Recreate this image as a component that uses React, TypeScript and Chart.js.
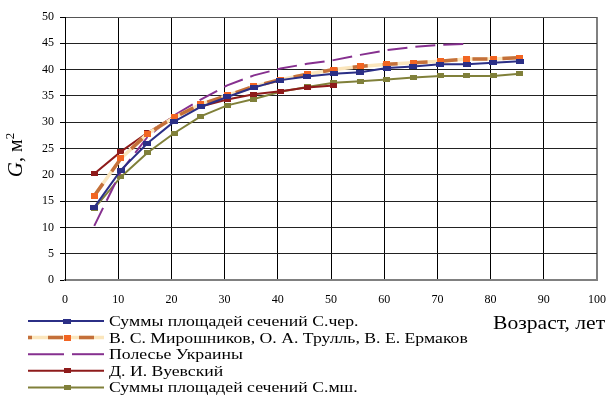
import React, { useEffect, useRef } from "react";
import { Chart, registerables } from "chart.js";

Chart.register(...registerables);

// Age (years) positions of the plotted points
const ages = [5.5, 10.5, 15.5, 20.5, 25.5, 30.5, 35.5, 40.5, 45.5, 50.5, 55.5, 60.5, 65.5, 70.5, 75.5, 80.5, 85.5];

const seriesLabels = [
  "Суммы площадей сечений С.чер.",
  "В. С. Мирошников, О. А. Трулль, В. Е. Ермаков",
  "Полесье Украины",
  "Д. И. Вуевский",
  "Суммы площадей сечений С.мш.",
];

const sumsChernichny = [13.8, 20.9, 26.0, 30.1, 32.9, 34.8, 36.6, 38.0, 38.7, 39.2, 39.5, 40.3, 40.6, 41.0, 41.0, 41.3, 41.6];
const miroshnikov = [16.0, 23.1, 27.8, 30.9, 33.4, 35.1, 36.8, 38.1, 39.1, 40.0, 40.6, 41.0, 41.3, 41.6, 42.0, 42.0, 42.3];
const polesie = [10.3, 20.6, 27.2, 31.3, 34.3, 37.0, 38.9, 40.2, 41.1, 41.8, 42.8, 43.7, 44.3, 44.7, 44.9];
const vuevsky = [20.2, 24.4, 28.0, 31.1, 33.0, 34.3, 35.3, 35.9, 36.6, 37.0];
const sumsMshisty = [13.6, 19.6, 24.2, 27.9, 31.1, 33.2, 34.4, 35.8, 36.7, 37.5, 37.8, 38.1, 38.5, 38.8, 38.8, 38.8, 39.2];

const xAxisTitle = "Возраст, лет";
const yTitleMain = "G";
const yTitleRest = ", м";
const yTitleSup = "2";

const FONT = "'Liberation Serif', 'Times New Roman', serif";

function pts(vals: number[]) {
  return vals.map((v, i) => ({ x: ages[i], y: v }));
}

function makeMarker(color: string, w: number, h: number) {
  const c = document.createElement("canvas");
  c.width = w;
  c.height = h;
  const g = c.getContext("2d")!;
  g.fillStyle = color;
  g.fillRect(0, 0, w, h);
  return c;
}

const NAVY = "#2b2f86";
const BEIGE = "#fbe6bd";
const BROWN = "#c4703a";
const ORANGE = "#f26522";
const PURPLE = "#86308f";
const DARKRED = "#8e1b1b";
const OLIVE = "#80803a";

export default function App() {
  const ref = useRef<HTMLCanvasElement | null>(null);

  useEffect(() => {
    if (!ref.current) return;
    const mNavy = makeMarker(NAVY, 8, 5);
    const mOrange = makeMarker(ORANGE, 7, 6);
    const mRed = makeMarker(DARKRED, 7, 5);
    const mOlive = makeMarker(OLIVE, 7, 5);

    const legendItems = [
      { label: seriesLabels[0], kind: "solid", color: NAVY, marker: mNavy },
      { label: seriesLabels[1], kind: "miro", color: BROWN, marker: mOrange },
      { label: seriesLabels[2], kind: "gap", color: PURPLE, marker: null },
      { label: seriesLabels[3], kind: "solid", color: DARKRED, marker: mRed },
      { label: seriesLabels[4], kind: "solid", color: OLIVE, marker: mOlive },
    ];

    const overlay = {
      id: "overlay",
      afterDraw(chart: any) {
        const ctx = chart.ctx as CanvasRenderingContext2D;
        ctx.save();
        // Legend
        const x0 = 28, x1 = 104, xm = 67;
        legendItems.forEach((it, i) => {
          const y = 321 + i * 16.6;
          ctx.setLineDash([]);
          if (it.kind === "miro") {
            ctx.strokeStyle = BEIGE;
            ctx.lineWidth = 3.5;
            ctx.beginPath(); ctx.moveTo(x0, y); ctx.lineTo(x1, y); ctx.stroke();
            ctx.strokeStyle = BROWN;
            ctx.setLineDash([15, 16]);
            ctx.lineDashOffset = 11;
            ctx.beginPath(); ctx.moveTo(x0, y); ctx.lineTo(x1, y); ctx.stroke();
            ctx.setLineDash([]);
            ctx.lineDashOffset = 0;
          } else if (it.kind === "gap") {
            ctx.strokeStyle = it.color;
            ctx.lineWidth = 2;
            ctx.beginPath(); ctx.moveTo(x0, y); ctx.lineTo(64, y); ctx.stroke();
            ctx.beginPath(); ctx.moveTo(72, y); ctx.lineTo(x1, y); ctx.stroke();
          } else {
            ctx.strokeStyle = it.color;
            ctx.lineWidth = 2;
            ctx.beginPath(); ctx.moveTo(x0, y); ctx.lineTo(x1, y); ctx.stroke();
          }
          if (it.marker) {
            const m = it.marker as HTMLCanvasElement;
            ctx.drawImage(m, xm - m.width / 2, y - m.height / 2);
          }
          ctx.save();
          ctx.fillStyle = "#000";
          ctx.font = `15px ${FONT}`;
          ctx.textBaseline = "middle";
          ctx.textAlign = "left";
          ctx.translate(109, y + 1);
          ctx.scale(1.18, 1);
          ctx.fillText(it.label, 0, 0);
          ctx.restore();
        });

        // X axis title
        ctx.save();
        ctx.fillStyle = "#000";
        ctx.font = `18px ${FONT}`;
        ctx.textBaseline = "alphabetic";
        ctx.textAlign = "left";
        ctx.translate(493, 329);
        ctx.scale(1.2, 1);
        ctx.fillText(xAxisTitle, 0, 0);
        ctx.restore();

        // Y axis title (rotated)
        ctx.fillStyle = "#000";
        ctx.translate(22, 155);
        ctx.rotate(-Math.PI / 2);
        ctx.font = `italic 21px ${FONT}`;
        const wG = ctx.measureText(yTitleMain).width;
        ctx.font = `20px ${FONT}`;
        const wR = ctx.measureText(yTitleRest).width;
        ctx.font = `13px ${FONT}`;
        const wS = ctx.measureText(yTitleSup).width;
        let sx = -(wG + wR + wS) / 2;
        ctx.font = `italic 21px ${FONT}`;
        ctx.fillText(yTitleMain, sx, 0);
        sx += wG;
        ctx.font = `20px ${FONT}`;
        ctx.fillText(yTitleRest, sx, 0);
        sx += wR;
        ctx.font = `13px ${FONT}`;
        ctx.fillText(yTitleSup, sx, -8);
        ctx.restore();
      },
    };

    const chart = new Chart(ref.current, {
      type: "line",
      data: {
        datasets: [
          {
            label: seriesLabels[0],
            data: pts(sumsChernichny),
            borderColor: NAVY,
            borderWidth: 2,
            pointStyle: mNavy as any,
            pointRadius: 4,
            tension: 0,
          },
          {
            label: seriesLabels[1],
            data: pts(miroshnikov),
            borderColor: BROWN,
            borderWidth: 3.5,
            borderDash: [15, 15],
            pointStyle: mOrange as any,
            pointRadius: 4,
            tension: 0,
          },
          {
            label: seriesLabels[1] + " (фон)",
            data: pts(miroshnikov),
            borderColor: BEIGE,
            borderWidth: 3.5,
            pointRadius: 0,
            tension: 0,
          },
          {
            label: seriesLabels[2],
            data: pts(polesie),
            borderColor: PURPLE,
            borderWidth: 2,
            borderDash: [20, 8],
            pointRadius: 0,
            tension: 0,
          },
          {
            label: seriesLabels[3],
            data: pts(vuevsky),
            borderColor: DARKRED,
            borderWidth: 2,
            pointStyle: mRed as any,
            pointRadius: 4,
            tension: 0,
          },
          {
            label: seriesLabels[4],
            data: pts(sumsMshisty),
            borderColor: OLIVE,
            borderWidth: 2,
            pointStyle: mOlive as any,
            pointRadius: 4,
            tension: 0,
          },
        ],
      },
      options: {
        animation: false,
        responsive: false,
        devicePixelRatio: 1,
        layout: { padding: { left: 0, right: 13, top: 17, bottom: 0 } },
        plugins: { legend: { display: false }, tooltip: { enabled: false } },
        scales: {
          x: {
            type: "linear",
            min: 0,
            max: 100,
            ticks: { stepSize: 10, color: "#000", font: { family: FONT, size: 12 }, padding: 13, maxRotation: 0 },
            grid: {
              drawTicks: false,
              color: (c: any) => (c.tick && c.tick.value === 100 ? "#808080" : "#000"),
              lineWidth: (c: any) => (c.tick && c.tick.value === 100 ? 2 : 1),
            },
            border: { color: "#808080", width: 2 },
            afterFit: (s: any) => {
              s.height = 116;
              s.paddingLeft = 0;
              s.paddingRight = 0;
            },
          },
          y: {
            min: 0,
            max: 50,
            ticks: { stepSize: 5, color: "#000", font: { family: FONT, size: 12 }, padding: 6 },
            grid: {
              drawTicks: true,
              tickLength: 5,
              tickColor: "#000",
              color: (c: any) => (c.tick && c.tick.value === 50 ? "#555" : "#222"),
              lineWidth: 1,
            },
            border: { color: "#000", width: 1 },
            afterFit: (s: any) => {
              s.width = 65;
              s.paddingTop = 0;
              s.paddingBottom = 0;
            },
          },
        },
      },
      plugins: [overlay],
    });
    return () => chart.destroy();
  }, []);

  return (
    <div style={{ position: "fixed", left: 0, top: 0, width: 610, height: 396, background: "#fff" }}>
      <canvas ref={ref} width={610} height={396} style={{ width: 610, height: 396 }} />
    </div>
  );
}
